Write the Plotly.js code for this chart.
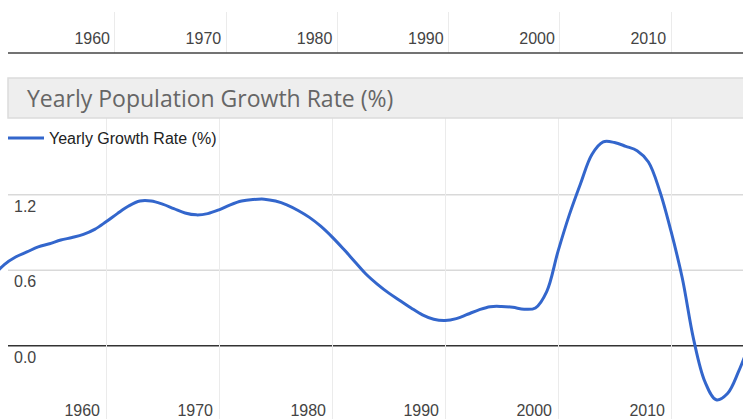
<!DOCTYPE html>
<html><head><meta charset="utf-8">
<script src="https://cdn.plot.ly/plotly-3.0.1.min.js"></script>
<style>html,body{margin:0;padding:0;background:#fff;overflow:hidden;} #chart{width:743px;height:419px;}</style>
</head><body><div id="chart"></div>
<script>
const years = [1950,1951,1952,1953,1954,1955,1956,1957,1958,1959,
  1960,1961,1962,1963,1964,1965,1966,1967,1968,1969,
  1970,1971,1972,1973,1974,1975,1976,1977,1978,1979,
  1980,1981,1982,1983,1984,1985,1986,1987,1988,1989,
  1990,1991,1992,1993,1994,1995,1996,1997,1998,1999,
  2000,2001,2002,2003,2004,2005,2006,2007,2008,2009,
  2010,2011,2012,2013,2014,2015,2016,2017];
const growthRate = [0.55,0.645,0.705,0.745,0.785,0.81,0.84,0.86,0.885,0.925,
  0.985,1.05,1.11,1.15,1.15,1.125,1.09,1.055,1.04,1.05,
  1.08,1.12,1.15,1.162,1.165,1.15,1.12,1.075,1.02,0.95,
  0.865,0.77,0.67,0.57,0.49,0.42,0.36,0.30,0.245,0.21,
  0.20,0.215,0.25,0.285,0.31,0.312,0.305,0.29,0.30,0.43,
  0.75,1.04,1.29,1.52,1.62,1.615,1.585,1.55,1.46,1.23,
  0.91,0.536,0.05,-0.286,-0.43,-0.38,-0.20,0.03];
const decadeTicks = [1960,1970,1980,1990,2000,2010];
const decadeLabels = ['1960','1970','1980','1990','2000','2010'];
const rateTicks = [0, 0.6, 1.2];
const rateLabels = ['0.0','0.6','1.2'];
const chartTitle = 'Yearly Population Growth Rate (%)';
const seriesName = 'Yearly Growth Rate (%)';

const W = 743, H = 419;
const px = p => p / W;
const py = p => 1 - p / H;
const sans = 'Arial, "Liberation Sans", sans-serif';

const trace = {
  x: years, y: growthRate, type: 'scatter', mode: 'lines', name: seriesName,
  xaxis: 'x', yaxis: 'y', hoverinfo: 'skip',
  line: {color: '#3366cc', width: 3, shape: 'spline', smoothing: 1}
};
// empty trace so that the upper (cut-off) timeline axis gets drawn
const topAxisHolder = {x: [], y: [], type: 'scatter', mode: 'lines', xaxis: 'x2', yaxis: 'y2',
  showlegend: false, hoverinfo: 'skip'};

const shapes = [];
rateTicks.forEach(v => {
  shapes.push({type: 'line', xref: 'paper', yref: 'y', x0: px(8), x1: 1, y0: v, y1: v,
    line: {color: v === 0 ? '#333333' : '#d9d9d9', width: 1.6}, layer: 'below'});
});
shapes.push({type: 'line', xref: 'paper', yref: 'y2 domain', x0: px(8), x1: 1, y0: 0, y1: 0,
  line: {color: '#444444', width: 1.6}});
shapes.push({type: 'rect', xref: 'paper', yref: 'paper', x0: px(8), x1: 1.01, y0: py(118), y1: py(78),
  fillcolor: '#eeeeee', line: {color: '#dcdcdc', width: 1.5}});

const layout = {
  width: W, height: H,
  margin: {l: 0, r: 0, t: 0, b: 0, pad: 0},
  paper_bgcolor: '#ffffff', plot_bgcolor: 'rgba(0,0,0,0)',
  showlegend: true,
  legend: {x: px(3), y: py(121), xanchor: 'left', yanchor: 'top', bgcolor: 'rgba(0,0,0,0)',
    itemwidth: 36, font: {family: sans, size: 16, color: '#222222'}},
  xaxis: {domain: [0, 1], range: [1950.62, 2016.37], anchor: 'y',
    tickvals: decadeTicks, ticktext: decadeLabels, ticks: '',
    showgrid: true, gridcolor: '#ebebeb', gridwidth: 1, zeroline: false, showline: false,
    ticklabelposition: 'inside left', ticklabelshift: -6, ticklabelstandoff: -6,
    tickfont: {family: sans, size: 16, color: '#444444'}, fixedrange: true},
  yaxis: {domain: [0, py(118)], range: [(345.7 - 419) / 125.8, (345.7 - 118) / 125.8], anchor: 'x',
    tickvals: rateTicks, ticktext: rateLabels, ticks: '',
    showgrid: false, zeroline: false, showline: false,
    ticklabelposition: 'inside bottom', ticklabelstandoff: 11,
    tickfont: {family: sans, size: 16, color: '#444444'}, fixedrange: true},
  xaxis2: {domain: [0, 1], range: [1949.66, 2016.47], anchor: 'y2',
    tickvals: decadeTicks, ticktext: decadeLabels, ticks: '',
    showgrid: true, gridcolor: '#ebebeb', gridwidth: 1, zeroline: false, showline: false,
    ticklabelposition: 'inside left', ticklabelshift: -5,
    tickfont: {family: sans, size: 16, color: '#444444'}, fixedrange: true},
  yaxis2: {domain: [py(53), py(12)], range: [0, 1], anchor: 'x2',
    showgrid: false, zeroline: false, showline: false, showticklabels: false, ticks: '', fixedrange: true},
  shapes: shapes,
  annotations: [{text: chartTitle, xref: 'paper', yref: 'paper', x: px(25), y: py(98),
    xanchor: 'left', yanchor: 'middle', showarrow: false,
    font: {family: '"Open Sans", sans-serif', size: 23, color: '#666666'}}]
};

Plotly.newPlot('chart', [trace, topAxisHolder], layout, {staticPlot: true, displayModeBar: false});
</script></body></html>
